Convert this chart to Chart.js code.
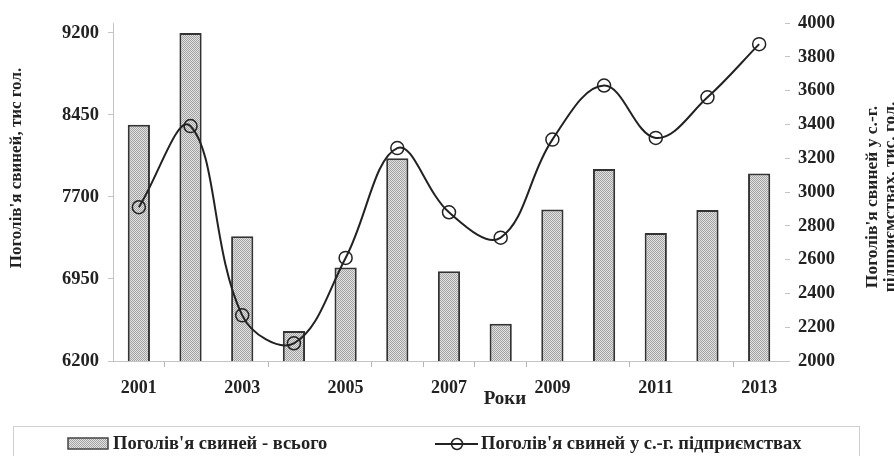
<!DOCTYPE html>
<html>
<head>
<meta charset="utf-8">
<script src="https://cdn.jsdelivr.net/npm/chart.js@4.4.1/dist/chart.umd.min.js"></script>
<style>
  body { margin: 0; background: #fff; }
  #wrap { width: 894px; height: 456px; position: relative; }
</style>
</head>
<body>
<div id="wrap"><canvas id="pigChart"></canvas></div>
<script>
const years = ['2001', '2002', '2003', '2004', '2005', '2006', '2007', '2008', '2009', '2010', '2011', '2012', '2013'];
const totalPigs = [8360, 9200, 7340, 6475, 7055, 8055, 7020, 6540, 7585, 7955, 7370, 7580, 7915];
const enterprisePigs = [2910, 3390, 2270, 2105, 2610, 3260, 2880, 2730, 3310, 3630, 3320, 3560, 3875];
const leftTicks = [6200, 6950, 7700, 8450, 9200];
const rightTicks = [2000, 2200, 2400, 2600, 2800, 3000, 3200, 3400, 3600, 3800, 4000];

const serif = "'Liberation Serif', 'Times New Roman', serif";
const ink = '#222';

// dotted fill like the printed bars
function makePattern() {
  const c = document.createElement('canvas');
  c.width = 2;
  c.height = 2;
  const p = c.getContext('2d');
  p.fillStyle = '#e2e2e2';
  p.fillRect(0, 0, 2, 2);
  p.fillStyle = '#a2a2a2';
  p.fillRect(0, 0, 1, 1);
  p.fillRect(1, 1, 1, 1);
  return p.createPattern(c, 'repeat');
}
const barFill = makePattern();

// boundaries between years where the printed axis has a tick mark
const xTickMarks = [1, 3, 5, 6, 7, 8, 10, 12];

const titlesAndLegend = {
  id: 'titlesAndLegend',
  afterDraw: function(chart) {
    const ctx = chart.ctx;
    ctx.save();
    ctx.fillStyle = ink;
    ctx.textBaseline = 'middle';

    // left axis title
    ctx.save();
    ctx.translate(17, 168);
    ctx.rotate(-Math.PI / 2);
    ctx.textAlign = 'center';
    ctx.font = 'bold 17px ' + serif;
    ctx.fillText("Поголів'я свиней, тис гол.", 0, 0);
    ctx.restore();

    // right axis title, two lines
    ctx.save();
    ctx.translate(872, 197);
    ctx.rotate(-Math.PI / 2);
    ctx.textAlign = 'center';
    ctx.font = 'bold 17.5px ' + serif;
    ctx.fillText("Поголів'я свиней у с.-г.", 0, 0);
    ctx.fillText('підприємствах, тис. гол.', 0, 18);
    ctx.restore();

    // x axis title
    ctx.textAlign = 'center';
    ctx.font = 'bold 19px ' + serif;
    ctx.fillText('Роки', 505, 399);

    // legend box
    ctx.strokeStyle = '#cfcfcf';
    ctx.lineWidth = 1;
    ctx.strokeRect(13.5, 426.5, 846, 40);

    ctx.fillStyle = barFill;
    ctx.fillRect(68, 438, 40, 11);
    ctx.strokeStyle = '#444';
    ctx.lineWidth = 1.5;
    ctx.strokeRect(68, 438, 40, 11);

    ctx.fillStyle = ink;
    ctx.textAlign = 'left';
    ctx.font = 'bold 18.5px ' + serif;
    ctx.fillText("Поголів'я свиней - всього", 113, 444);

    ctx.strokeStyle = ink;
    ctx.lineWidth = 2;
    ctx.beginPath();
    ctx.moveTo(435, 444);
    ctx.lineTo(478, 444);
    ctx.stroke();
    ctx.lineWidth = 1.5;
    ctx.beginPath();
    ctx.arc(457, 444, 5.5, 0, Math.PI * 2);
    ctx.stroke();

    ctx.fillText("Поголів'я свиней у с.-г. підприємствах", 481, 444);
    ctx.restore();
  }
};

const ctx = document.getElementById('pigChart').getContext('2d');
new Chart(ctx, {
  data: {
    labels: years,
    datasets: [
      {
        type: 'line',
        label: "Поголів'я свиней у с.-г. підприємствах",
        data: enterprisePigs,
        yAxisID: 'y1',
        order: 0,
        borderColor: ink,
        borderWidth: 2,
        tension: 0.38,
        pointRadius: 6.5,
        pointBorderWidth: 1.5,
        pointBorderColor: ink,
        pointBackgroundColor: 'rgba(0,0,0,0)'
      },
      {
        type: 'bar',
        label: "Поголів'я свиней - всього",
        data: totalPigs,
        yAxisID: 'y',
        order: 1,
        backgroundColor: barFill,
        borderColor: '#333',
        borderWidth: 2,
        borderSkipped: false,
        categoryPercentage: 1,
        barPercentage: 0.43
      }
    ]
  },
  options: {
    responsive: true,
    maintainAspectRatio: false,
    animation: false,
    layout: { padding: { top: 23, left: 0, right: 0, bottom: 0 } },
    plugins: {
      legend: { display: false },
      tooltip: { enabled: false }
    },
    scales: {
      x: {
        offset: true,
        grid: {
          offset: true,
          drawOnChartArea: false,
          tickLength: 6,
          tickColor: function(c) { return xTickMarks.includes(c.index) ? '#b5b5b5' : 'rgba(0,0,0,0)'; }
        },
        border: { color: '#c4c4c4' },
        ticks: {
          autoSkip: false,
          maxRotation: 0,
          padding: 11,
          color: ink,
          font: { family: serif, size: 18, weight: 'bold' },
          callback: function(value, i) { return i % 2 === 0 ? years[i] : ''; }
        },
        afterFit: function(s) { s.height = 95; }
      },
      y: {
        position: 'left',
        min: 6200,
        max: 9291,
        afterBuildTicks: function(s) { s.ticks = leftTicks.map(function(v) { return { value: v }; }); },
        grid: { drawOnChartArea: false, tickLength: 5, color: '#c4c4c4' },
        border: { color: '#c4c4c4' },
        ticks: {
          padding: 9,
          color: ink,
          font: { family: serif, size: 18.5, weight: 'bold' },
          callback: function(value) { return String(value); }
        },
        afterFit: function(s) { s.width = 113; }
      },
      y1: {
        position: 'right',
        min: 2000,
        max: 4000,
        afterBuildTicks: function(s) { s.ticks = rightTicks.map(function(v) { return { value: v }; }); },
        grid: { drawOnChartArea: false, tickLength: 5, color: '#c4c4c4' },
        border: { display: false },
        ticks: {
          padding: 8,
          color: ink,
          font: { family: serif, size: 18.5, weight: 'bold' },
          callback: function(value) { return String(value); }
        },
        afterFit: function(s) { s.width = 109; }
      }
    }
  },
  plugins: [titlesAndLegend]
});
</script>
</body>
</html>
